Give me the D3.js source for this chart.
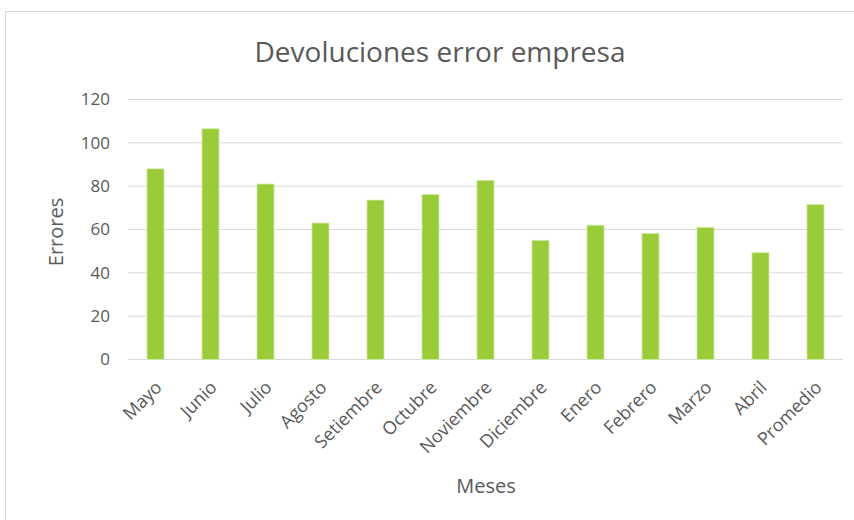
<!DOCTYPE html>
<html><head><meta charset="utf-8">
<script src="https://cdn.jsdelivr.net/npm/d3@7"></script>
<style>body{margin:0;background:#fff}svg{display:block}text{font-family:"Open Sans",sans-serif;fill:#595959}</style>
</head><body><svg id="c" width="854" height="520"></svg>
<script>
const categories = ["Mayo","Junio","Julio","Agosto","Setiembre","Octubre","Noviembre","Diciembre","Enero","Febrero","Marzo","Abril","Promedio"];
const values = [88,106.5,81,63,73.6,76.2,82.7,55,62,58.2,61,49.3,71.6];
const yTicks = [0,20,40,60,80,100,120];
const title = "Devoluciones error empresa";
const xTitle = "Meses", yTitle = "Errores";

const svg = d3.select("#c");
svg.append("rect").attr("x",5.5).attr("y",11.5).attr("width",860).attr("height",520).attr("fill","#fff").attr("stroke","#d9d9d9");

const m = {l:128, r:843, t:99.5, b:359.5};
const x = d3.scaleBand().domain(categories).range([m.l,m.r]).paddingInner(0.69).paddingOuter(0.345);
const y = d3.scaleLinear().domain([0,120]).range([m.b,m.t]);

const g = svg.append("g");
g.selectAll("line.grid").data(yTicks).join("line").attr("class","grid")
 .attr("x1",m.l).attr("x2",m.r).attr("y1",d=>y(d)).attr("y2",d=>y(d))
 .attr("stroke","#d9d9d9").attr("stroke-width",1);

const yAxis = svg.append("g").attr("transform",`translate(${m.l},0)`)
 .call(d3.axisLeft(y).tickValues(yTicks).tickSize(0).tickPadding(18));
yAxis.select(".domain").remove();
yAxis.selectAll("text").attr("font-size",17).style("fill","#595959").attr("font-family","Open Sans");

svg.append("g").selectAll("rect").data(values).join("rect")
 .attr("x",(d,i)=>x(categories[i])).attr("width",x.bandwidth())
 .attr("y",d=>y(d)).attr("height",d=>y(0)-y(d))
 .attr("fill","#9ACB38").attr("stroke","#d4ebb0").attr("stroke-width",0.8);

const xAxis = svg.append("g").attr("transform",`translate(0,${m.b})`)
 .call(d3.axisBottom(x).tickSize(0).tickPadding(0));
xAxis.select(".domain").remove();
xAxis.selectAll("text").attr("font-size",18).style("fill","#595959").attr("font-family","Open Sans")
 .attr("text-anchor","end").attr("dy",0)
 .attr("transform",d=>`translate(${x.bandwidth()/2-1},29) rotate(-45)`).attr("y",0).attr("x",0);

svg.append("text").attr("x",440).attr("y",62).attr("text-anchor","middle").attr("font-size",28).text(title);
svg.append("text").attr("x",486).attr("y",493).attr("text-anchor","middle").attr("font-size",20).text(xTitle);
svg.append("text").attr("transform","translate(63,232) rotate(-90)").attr("text-anchor","middle").attr("font-size",20).text(yTitle);
</script></body></html>
